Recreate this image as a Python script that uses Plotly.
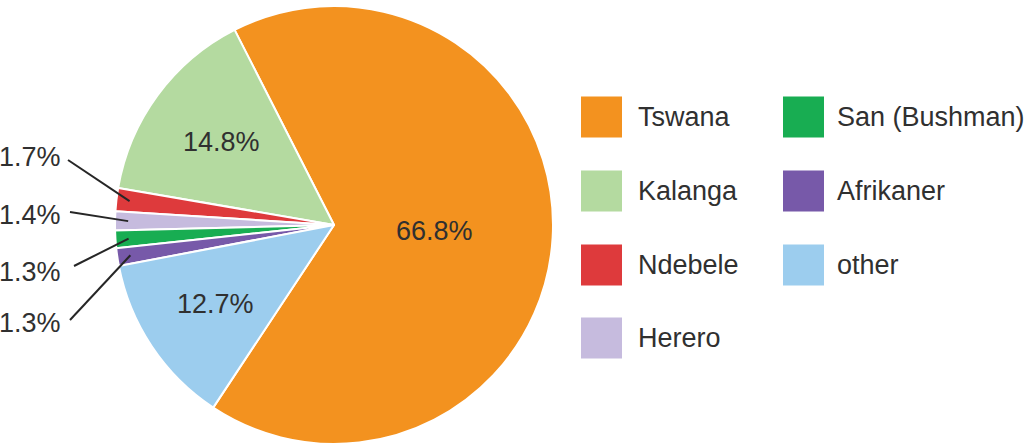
import numpy as np
import plotly.graph_objects as go

# Ethnic groups of Botswana, share of population (%)
groups = ["Tswana", "Kalanga", "Ndebele", "Herero", "San (Bushman)", "Afrikaner", "other"]
shares = [66.8, 14.8, 1.7, 1.4, 1.3, 1.3, 12.7]
colors = ["#F3921F", "#B4DAA0", "#DE3A3C", "#C6BBDE", "#18AD52", "#7759A9", "#9CCDEE"]

# groups whose value is written inside the slice; the rest get a leader line
inside_groups = ["Tswana", "Kalanga", "other"]
outside_groups = ["Ndebele", "Herero", "San (Bushman)", "Afrikaner"]

W, H = 1028, 445
CX, CY, R = 334, 225, 219          # pie centre and radius, px
ROTATION = -27                      # clockwise angle of the first slice edge
FONT = "Liberation Sans, Arial, Helvetica, sans-serif"
FS = 27
TEXT = "#303030"


def px(x):
    return x / W


def py(y):
    return 1 - y / H


def point(angle_deg, r):
    a = np.radians(angle_deg)
    return CX + r * np.sin(a), CY - r * np.cos(a)


# mid-angle of every slice (clockwise from 12 o'clock), same layout rule as the pie trace
vals = np.array(shares, dtype=float)
k = 360.0 / vals.sum()
mids = {groups[0]: ROTATION + vals[0] * k / 2}
edge = ROTATION
for g, v in zip(groups[1:], vals[1:]):
    mids[g] = edge - v * k / 2
    edge -= v * k

fig = go.Figure(
    go.Pie(
        labels=groups,
        values=shares,
        sort=False,
        direction="counterclockwise",
        rotation=ROTATION,
        marker=dict(colors=colors, line=dict(color="white", width=2)),
        textinfo="none",
        hoverinfo="label+percent",
        showlegend=False,
        domain=dict(x=[px(CX - R), px(CX + R)], y=[py(CY + R), py(CY - R)]),
    )
)

annotations = []
shapes = []

# values written inside the large slices
inside_radius = {"Tswana": 0.46, "Kalanga": 0.64, "other": 0.65}
for g in inside_groups:
    x, y = point(mids[g], inside_radius[g] * R)
    annotations.append(dict(
        x=px(x), y=py(y), xref="paper", yref="paper", showarrow=False,
        text=f"{shares[groups.index(g)]:.1f}%",
        font=dict(family=FONT, size=FS, color=TEXT),
        xanchor="center", yanchor="middle",
    ))

# values of the thin slices, listed on the left with leader lines
label_y = [157, 215, 272, 323]
leader_start = [(68, 160), (70, 212), (74, 266), (70, 320)]
for g, ly, (sx, sy) in zip(outside_groups, label_y, leader_start):
    annotations.append(dict(
        x=px(-3), y=py(ly), xref="paper", yref="paper", showarrow=False,
        text=f"{shares[groups.index(g)]:.1f}%",
        font=dict(family=FONT, size=FS, color=TEXT),
        xanchor="left", yanchor="middle",
    ))
    tx, ty = point(mids[g], 0.94 * R)
    shapes.append(dict(
        type="line", xref="paper", yref="paper",
        x0=px(sx), y0=py(sy), x1=px(tx), y1=py(ty),
        line=dict(color="#262626", width=2),
    ))

# two-column legend
legend_cols = [groups[:4], groups[4:]]
swatch_x = [581, 783]
text_x = [636, 835]
row_y = [117, 191, 265, 338]
SW = 41
for c, col in enumerate(legend_cols):
    for r, g in enumerate(col):
        cy = row_y[r]
        shapes.append(dict(
            type="rect", xref="paper", yref="paper",
            x0=px(swatch_x[c]), x1=px(swatch_x[c] + SW),
            y0=py(cy + SW / 2), y1=py(cy - SW / 2),
            fillcolor=colors[groups.index(g)], line=dict(width=0),
        ))
        annotations.append(dict(
            x=px(text_x[c]), y=py(cy), xref="paper", yref="paper", showarrow=False,
            text=g, font=dict(family=FONT, size=FS, color=TEXT),
            xanchor="left", yanchor="middle",
        ))

fig.update_layout(
    width=W, height=H,
    margin=dict(l=0, r=0, t=0, b=0),
    paper_bgcolor="white", plot_bgcolor="white",
    annotations=annotations, shapes=shapes,
)

fig.write_html("out.html")
